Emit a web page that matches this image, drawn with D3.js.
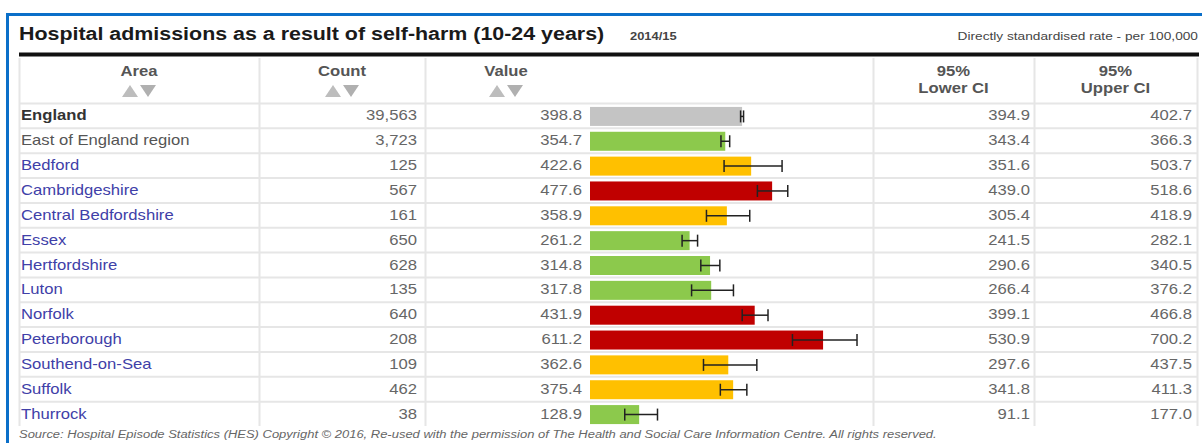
<!DOCTYPE html>
<html>
<head>
<meta charset="utf-8">
<script src="https://cdn.jsdelivr.net/npm/d3@7"></script>
<style>
  body { margin: 0; background: #fff; }
  svg { display: block; font-family: "Liberation Sans", Arial, sans-serif; }
</style>
</head>
<body>
<div id="chart"></div>
<script>
// chart data
const areas = ['England', 'East of England region', 'Bedford', 'Cambridgeshire', 'Central Bedfordshire',
  'Essex', 'Hertfordshire', 'Luton', 'Norfolk', 'Peterborough', 'Southend-on-Sea', 'Suffolk', 'Thurrock'];
const counts = [39563, 3723, 125, 567, 161, 650, 628, 135, 640, 208, 109, 462, 38];
const values = [398.8, 354.7, 422.6, 477.6, 358.9, 261.2, 314.8, 317.8, 431.9, 611.2, 362.6, 375.4, 128.9];
const lowerCI = [394.9, 343.4, 351.6, 439.0, 305.4, 241.5, 290.6, 266.4, 399.1, 530.9, 297.6, 341.8, 91.1];
const upperCI = [402.7, 366.3, 503.7, 518.6, 418.9, 282.1, 340.5, 376.2, 466.8, 700.2, 437.5, 411.3, 177.0];
// comparison with England: 'eng', 'better', 'similar', 'worse'
const compare = ['eng', 'better', 'similar', 'worse', 'similar', 'better', 'better', 'better',
  'worse', 'worse', 'similar', 'similar', 'better'];

const rows = areas.map((a, i) => ({
  area: a, count: counts[i], value: values[i], lo: lowerCI[i], hi: upperCI[i], cmp: compare[i]
}));

let svgWidth = 1202, svgHeight = 443,
  tableLeft = 19, tableRight = 1197,
  headerTop = 56, rowsTop = 103, rowsBottom = 426,
  colEdges = [tableLeft, 259, 425, 587, 873, 1034, tableRight],
  stretch = 1.19; // the reference text runs wide

const fillColor = { eng: '#c4c4c4', better: '#8cc94c', similar: '#ffc000', worse: '#c00000' };

const svg = d3.select('#chart')
  .append('svg')
  .attr('width', svgWidth)
  .attr('height', svgHeight);

// text placed in a group so it can be widened around its anchor
function addText(x, y, str, opts) {
  opts = opts || {};
  const g = svg.append('g')
    .attr('transform', `translate(${x},${y}) scale(${opts.sx || stretch},1)`);
  const t = g.append('text')
    .attr('text-anchor', opts.anchor || 'start')
    .attr('font-size', opts.size || 14)
    .attr('font-weight', opts.weight || 'normal')
    .attr('font-style', opts.style || 'normal')
    .attr('fill', opts.fill || '#333')
    .text(str);
  return t;
}

// blue frame
svg.append('rect')
  .attr('x', 7.5).attr('y', 14.5)
  .attr('width', svgWidth + 10).attr('height', svgHeight + 10)
  .attr('fill', 'none')
  .attr('stroke', '#0a6fc9')
  .attr('stroke-width', 3);

// title
addText(tableLeft, 40, 'Hospital admissions as a result of self-harm (10-24 years)',
  { size: 18, weight: 'bold', fill: '#1a1a1a' });
addText(630, 40, '2014/15', { size: 10, weight: 'bold', fill: '#444', sx: 1.29 });
addText(1198, 40, 'Directly standardised rate - per 100,000', { size: 10, fill: '#444', anchor: 'end', sx: 1.37 });

// thick rule under the title
svg.append('rect')
  .attr('x', tableLeft).attr('y', 52.5)
  .attr('width', 1180).attr('height', 4)
  .attr('fill', '#111');

// row scale
const y = d3.scaleBand()
  .domain(areas)
  .range([rowsTop, rowsBottom]);

// value scale for bars
const x = d3.scaleLinear()
  .domain([0, 750])
  .range([590, 876]);

// row separators
svg.selectAll('.row-line')
  .data(areas)
  .enter()
  .append('line')
  .attr('x1', tableLeft).attr('x2', tableRight)
  .attr('y1', d => y(d) + 0.5).attr('y2', d => y(d) + 0.5)
  .attr('stroke', '#e6e6e6')
  .attr('stroke-width', 2);

// column separators (bars column shares the value cell)
[colEdges[0], colEdges[1], colEdges[2], colEdges[4], colEdges[5], colEdges[6]].forEach(cx => {
  svg.append('line')
    .attr('x1', cx + 0.5).attr('x2', cx + 0.5)
    .attr('y1', headerTop + 2).attr('y2', rowsBottom)
    .attr('stroke', '#e6e6e6')
    .attr('stroke-width', 2);
});

// headers
const headers = [
  { lines: ['Area'], cx: (colEdges[0] + colEdges[1]) / 2, arrows: true },
  { lines: ['Count'], cx: (colEdges[1] + colEdges[2]) / 2, arrows: true },
  { lines: ['Value'], cx: (colEdges[2] + colEdges[3]) / 2, arrows: true },
  { lines: ['95%', 'Lower CI'], cx: (colEdges[4] + colEdges[5]) / 2, arrows: false },
  { lines: ['95%', 'Upper CI'], cx: (colEdges[5] + colEdges[6]) / 2, arrows: false }
];

headers.forEach(h => {
  h.lines.forEach((l, j) => {
    addText(h.cx, 76 + j * 17, l, { size: 14, weight: 'bold', fill: '#555', anchor: 'middle' });
  });
  if (h.arrows) {
    svg.append('path')
      .attr('d', `M${h.cx - 17},97 L${h.cx - 9},85 L${h.cx - 1},97 Z`)
      .attr('fill', '#bdbdbd');
    svg.append('path')
      .attr('d', `M${h.cx + 1},85 L${h.cx + 17},85 L${h.cx + 9},97 Z`)
      .attr('fill', '#b0b0b0');
  }
});

const textY = d => y(d.area) + y.bandwidth() / 2 + 5;

// area names
rows.forEach((d, i) => {
  addText(21, textY(d), d.area, {
    weight: i === 0 ? 'bold' : 'normal',
    fill: i === 0 ? '#333' : (i === 1 ? '#555' : '#4040a8')
  });
});

// numeric columns
const fmtCount = d3.format(',');
const fmt1 = d3.format('.1f');
const numCols = [
  { right: 417, get: d => fmtCount(d.count) },
  { right: 582, get: d => fmt1(d.value) },
  { right: 1030, get: d => fmt1(d.lo) },
  { right: 1192, get: d => fmt1(d.hi) }
];
numCols.forEach(c => {
  rows.forEach(d => {
    addText(c.right, textY(d), c.get(d), { anchor: 'end', fill: '#666' });
  });
});

// bars
const barH = 19;
svg.selectAll('.bar')
  .data(rows)
  .enter()
  .append('rect')
  .attr('x', x(0))
  .attr('y', d => y(d.area) + (y.bandwidth() - barH) / 2 + 1)
  .attr('width', d => x(d.value) - x(0))
  .attr('height', barH)
  .attr('fill', d => fillColor[d.cmp]);

// error bars
const midY = d => y(d.area) + y.bandwidth() / 2 + 1;
svg.selectAll('.ci-line')
  .data(rows)
  .enter()
  .append('line')
  .attr('x1', d => x(d.lo)).attr('x2', d => x(d.hi))
  .attr('y1', midY).attr('y2', midY)
  .attr('stroke', '#222').attr('stroke-width', 1.5);

['lo', 'hi'].forEach(k => {
  svg.selectAll(null)
    .data(rows)
    .enter()
    .append('line')
    .attr('x1', d => x(d[k])).attr('x2', d => x(d[k]))
    .attr('y1', d => midY(d) - 6).attr('y2', d => midY(d) + 6)
    .attr('stroke', '#222').attr('stroke-width', 1.5);
});

// footer
addText(19, 438, 'Source: Hospital Episode Statistics (HES) Copyright \u00a9 2016, Re-used with the permission of The Health and Social Care Information Centre. All rights reserved.',
  { size: 11, style: 'italic', fill: '#666', sx: 1.18 });
</script>
</body>
</html>
